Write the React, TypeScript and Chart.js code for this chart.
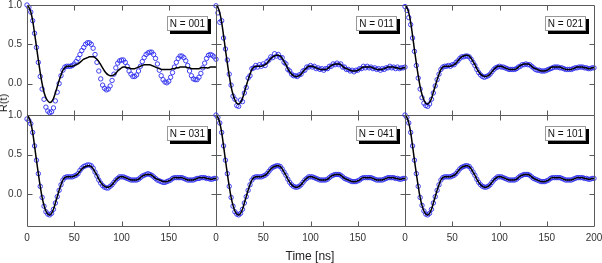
import { useEffect, useRef } from "react";
import { Chart, registerables } from "chart.js";

Chart.register(...registerables);

// Sampling step of every series below (ns); each array covers 0..200 ns.
const SAMPLE_STEP_NS = 2;

const PANEL_LABELS = ["N = 001", "N = 011", "N = 021", "N = 031", "N = 041", "N = 101"];
const X_TICKS = [0, 50, 100, 150, 200];
const Y_TICKS = [0, 0.5, 1.0];
const X_MIN = 0;
const X_MAX = 200;
const Y_MIN = -0.4;
const Y_MAX = 1.0;

// Fitted curves
const FIT_001 = [
  1.0, 0.97, 0.91, 0.8, 0.64, 0.47, 0.3, 0.14, 0.0, -0.11,
  -0.18, -0.22, -0.24, -0.23, -0.19, -0.12, -0.04, 0.04, 0.11, 0.17,
  0.2, 0.22, 0.22, 0.22, 0.22, 0.23, 0.24, 0.25, 0.27, 0.29,
  0.31, 0.32, 0.33, 0.34, 0.34, 0.34, 0.33, 0.31, 0.28, 0.24,
  0.2, 0.16, 0.13, 0.11, 0.1, 0.1, 0.11, 0.13, 0.16, 0.18,
  0.2, 0.21, 0.21, 0.2, 0.2, 0.19, 0.19, 0.19, 0.2, 0.21,
  0.22, 0.23, 0.24, 0.24, 0.24, 0.24, 0.23, 0.22, 0.21, 0.2,
  0.19, 0.18, 0.18, 0.18, 0.18, 0.18, 0.18, 0.19, 0.19, 0.2,
  0.2, 0.21, 0.21, 0.21, 0.21, 0.2, 0.2, 0.19, 0.19, 0.19,
  0.19, 0.19, 0.2, 0.2, 0.2, 0.2, 0.2, 0.21, 0.21, 0.21,
  0.21,
];

const FIT_SHARED = [
  1.0, 0.97, 0.9, 0.78, 0.61, 0.43, 0.26, 0.1, -0.04, -0.14,
  -0.21, -0.25, -0.26, -0.24, -0.19, -0.11, -0.03, 0.05, 0.12, 0.18,
  0.21, 0.22, 0.22, 0.22, 0.22, 0.23, 0.24, 0.26, 0.29, 0.32,
  0.34, 0.35, 0.36, 0.36, 0.35, 0.32, 0.28, 0.24, 0.19, 0.15,
  0.12, 0.1, 0.09, 0.09, 0.1, 0.12, 0.15, 0.18, 0.2, 0.22,
  0.22, 0.22, 0.21, 0.2, 0.19, 0.18, 0.18, 0.18, 0.18, 0.19,
  0.21, 0.23, 0.24, 0.25, 0.25, 0.25, 0.24, 0.22, 0.2, 0.19,
  0.18, 0.17, 0.16, 0.16, 0.16, 0.17, 0.18, 0.2, 0.21, 0.21,
  0.21, 0.21, 0.21, 0.2, 0.19, 0.18, 0.18, 0.18, 0.18, 0.19,
  0.2, 0.21, 0.21, 0.21, 0.21, 0.2, 0.2, 0.19, 0.19, 0.2,
  0.2,
];

// Measured R(t)
const DATA_001 = [
  1.0, 0.97, 0.91, 0.8, 0.64, 0.46, 0.27, 0.09, -0.07, -0.2,
  -0.3, -0.35, -0.37, -0.36, -0.31, -0.22, -0.11, 0.0, 0.1, 0.17,
  0.21, 0.22, 0.22, 0.22, 0.23, 0.25, 0.28, 0.32, 0.37, 0.42,
  0.46, 0.5, 0.52, 0.52, 0.5, 0.45, 0.37, 0.27, 0.16, 0.06,
  -0.02, -0.06, -0.08, -0.07, -0.03, 0.04, 0.12, 0.2, 0.26, 0.29,
  0.3, 0.3, 0.27, 0.22, 0.16, 0.12, 0.09, 0.09, 0.11, 0.16,
  0.22, 0.28, 0.33, 0.37, 0.39, 0.4, 0.4, 0.37, 0.32, 0.25,
  0.17, 0.1, 0.05, 0.02, 0.01, 0.03, 0.08, 0.14, 0.21, 0.27,
  0.32, 0.35, 0.35, 0.33, 0.29, 0.23, 0.16, 0.1, 0.06, 0.05,
  0.05, 0.08, 0.13, 0.2, 0.26, 0.32, 0.36, 0.37, 0.36, 0.34,
  0.31,
];

const DATA_011 = [
  0.99, 0.9, 0.78, 0.8, 0.58, 0.44, 0.3, 0.12, -0.02, -0.16,
  -0.2, -0.28, -0.29, -0.21, -0.23, -0.12, -0.05, 0.07, 0.1, 0.19,
  0.2, 0.23, 0.21, 0.24, 0.22, 0.25, 0.23, 0.28, 0.3, 0.34,
  0.33, 0.38, 0.35, 0.37, 0.33, 0.33, 0.27, 0.25, 0.18, 0.16,
  0.12, 0.1, 0.1, 0.09, 0.11, 0.12, 0.16, 0.17, 0.21, 0.21,
  0.23, 0.21, 0.22, 0.19, 0.2, 0.18, 0.19, 0.17, 0.19, 0.19,
  0.22, 0.22, 0.25, 0.24, 0.26, 0.24, 0.25, 0.21, 0.21, 0.18,
  0.18, 0.16, 0.17, 0.15, 0.17, 0.17, 0.19, 0.19, 0.22, 0.2,
  0.22, 0.2, 0.21, 0.19, 0.2, 0.18, 0.19, 0.17, 0.19, 0.18,
  0.2, 0.2, 0.22, 0.2, 0.21, 0.19, 0.21, 0.19, 0.2, 0.2,
  0.21,
];

const DATA_021 = [
  0.98, 0.93, 0.84, 0.75, 0.58, 0.41, 0.23, 0.07, -0.07, -0.18,
  -0.25, -0.28, -0.29, -0.26, -0.2, -0.12, -0.03, 0.05, 0.12, 0.18,
  0.21, 0.22, 0.22, 0.23, 0.22, 0.24, 0.24, 0.27, 0.29, 0.32,
  0.34, 0.34, 0.35, 0.35, 0.34, 0.31, 0.27, 0.23, 0.18, 0.14,
  0.11, 0.09, 0.08, 0.09, 0.1, 0.12, 0.15, 0.18, 0.2, 0.21,
  0.22, 0.21, 0.21, 0.2, 0.19, 0.18, 0.18, 0.18, 0.18, 0.19,
  0.21, 0.22, 0.24, 0.24, 0.25, 0.24, 0.24, 0.22, 0.2, 0.18,
  0.17, 0.17, 0.16, 0.16, 0.16, 0.17, 0.18, 0.19, 0.2, 0.21,
  0.21, 0.21, 0.2, 0.2, 0.19, 0.18, 0.18, 0.18, 0.18, 0.19,
  0.2, 0.2, 0.21, 0.21, 0.21, 0.2, 0.2, 0.19, 0.19, 0.2,
  0.2,
];

const DATA_031 = [
  0.95, 0.93, 0.89, 0.78, 0.61, 0.43, 0.26, 0.1, -0.04, -0.15,
  -0.22, -0.25, -0.26, -0.24, -0.19, -0.11, -0.03, 0.05, 0.12, 0.18,
  0.21, 0.22, 0.22, 0.22, 0.22, 0.23, 0.24, 0.26, 0.3, 0.33,
  0.35, 0.36, 0.37, 0.37, 0.36, 0.33, 0.28, 0.23, 0.18, 0.14,
  0.11, 0.09, 0.08, 0.08, 0.1, 0.12, 0.15, 0.18, 0.2, 0.22,
  0.22, 0.22, 0.21, 0.2, 0.19, 0.18, 0.18, 0.18, 0.18, 0.19,
  0.21, 0.23, 0.24, 0.25, 0.26, 0.25, 0.24, 0.22, 0.2, 0.18,
  0.17, 0.16, 0.15, 0.15, 0.16, 0.17, 0.18, 0.2, 0.21, 0.21,
  0.21, 0.21, 0.21, 0.2, 0.19, 0.18, 0.18, 0.18, 0.18, 0.19,
  0.2, 0.2, 0.21, 0.21, 0.21, 0.2, 0.2, 0.19, 0.19, 0.2,
  0.2,
];

const DATA_041 = [
  1.0, 0.97, 0.9, 0.78, 0.61, 0.43, 0.26, 0.1, -0.04, -0.15,
  -0.22, -0.25, -0.26, -0.24, -0.19, -0.11, -0.03, 0.05, 0.12, 0.18,
  0.21, 0.22, 0.22, 0.22, 0.22, 0.23, 0.24, 0.26, 0.29, 0.32,
  0.34, 0.35, 0.36, 0.36, 0.35, 0.32, 0.28, 0.24, 0.19, 0.15,
  0.12, 0.1, 0.09, 0.09, 0.1, 0.12, 0.15, 0.18, 0.2, 0.22,
  0.22, 0.22, 0.21, 0.2, 0.19, 0.18, 0.18, 0.18, 0.18, 0.19,
  0.21, 0.23, 0.24, 0.25, 0.25, 0.25, 0.24, 0.22, 0.2, 0.19,
  0.18, 0.17, 0.16, 0.16, 0.16, 0.17, 0.18, 0.2, 0.21, 0.21,
  0.21, 0.21, 0.21, 0.2, 0.19, 0.18, 0.18, 0.18, 0.18, 0.19,
  0.2, 0.21, 0.21, 0.21, 0.21, 0.2, 0.2, 0.19, 0.19, 0.2,
  0.2,
];

const DATA_101 = [
  1.0, 0.97, 0.9, 0.78, 0.61, 0.43, 0.26, 0.1, -0.04, -0.14,
  -0.21, -0.25, -0.26, -0.24, -0.19, -0.11, -0.03, 0.05, 0.12, 0.18,
  0.21, 0.22, 0.22, 0.22, 0.22, 0.23, 0.24, 0.26, 0.29, 0.32,
  0.34, 0.35, 0.36, 0.36, 0.35, 0.32, 0.28, 0.24, 0.19, 0.15,
  0.12, 0.1, 0.09, 0.09, 0.1, 0.12, 0.15, 0.18, 0.2, 0.22,
  0.22, 0.22, 0.21, 0.2, 0.19, 0.18, 0.18, 0.18, 0.18, 0.19,
  0.21, 0.23, 0.24, 0.25, 0.25, 0.25, 0.24, 0.22, 0.2, 0.19,
  0.18, 0.17, 0.16, 0.16, 0.16, 0.17, 0.18, 0.2, 0.21, 0.21,
  0.21, 0.21, 0.21, 0.2, 0.19, 0.18, 0.18, 0.18, 0.18, 0.19,
  0.2, 0.21, 0.21, 0.21, 0.21, 0.2, 0.2, 0.19, 0.19, 0.2,
  0.2,
];

const PANEL_DATA = [DATA_001, DATA_011, DATA_021, DATA_031, DATA_041, DATA_101];
const PANEL_FITS = [FIT_001, FIT_SHARED, FIT_SHARED, FIT_SHARED, FIT_SHARED, FIT_SHARED];

// Figure geometry
const FIG_W = 602;
const FIG_H = 263;
const COL_LEFT = [27, 216, 405];
const PANEL_W = 189;
const ROW_TOP = [5, 115];
const ROW_BOTTOM = [115, 226];

const FONT_FAMILY = "'Liberation Sans', Arial, Helvetica, sans-serif";
const FRAME_COLOR = "#5a5a5a";
const TEXT_COLOR = "#333";
const MARKER_COLOR = "rgba(45, 45, 240, 0.9)";

const toPoints = (values: number[]) =>
  values.map((v, i) => ({ x: i * SAMPLE_STEP_NS, y: v }));

const formatY = (v: number) => v.toFixed(1);

const panelDecor = (label: string, showYLabels: boolean) => ({
  id: "panelDecor",
  afterDatasetsDraw(chart: any) {
    const { ctx, chartArea, scales } = chart;
    const l = Math.round(chartArea.left) + 0.5;
    const r = Math.round(chartArea.right) + 0.5;
    const t = Math.round(chartArea.top) + 0.5;
    const b = Math.round(chartArea.bottom) + 0.5;
    const tick = 5;
    ctx.save();
    ctx.strokeStyle = FRAME_COLOR;
    ctx.lineWidth = 1;
    ctx.beginPath();
    ctx.rect(l, t, r - l, b - t);
    X_TICKS.forEach((v) => {
      if (v <= X_MIN || v >= X_MAX) return;
      const px = Math.round(scales.x.getPixelForValue(v)) + 0.5;
      ctx.moveTo(px, t);
      ctx.lineTo(px, t + tick);
      ctx.moveTo(px, b);
      ctx.lineTo(px, b - tick);
    });
    Y_TICKS.forEach((v) => {
      if (v <= Y_MIN || v >= Y_MAX) return;
      const py = Math.round(scales.y.getPixelForValue(v)) + 0.5;
      ctx.moveTo(l, py);
      ctx.lineTo(l + tick, py);
      ctx.moveTo(r, py);
      ctx.lineTo(r - tick, py);
    });
    ctx.stroke();
    ctx.restore();
  },
  afterDraw(chart: any) {
    const { ctx, chartArea, scales } = chart;
    ctx.save();
    ctx.font = `10px ${FONT_FAMILY}`;

    // Value labels of the y axis, left of the frame
    if (showYLabels) {
      ctx.fillStyle = TEXT_COLOR;
      ctx.textAlign = "right";
      ctx.textBaseline = "middle";
      Y_TICKS.forEach((v) => {
        const py = scales.y.getPixelForValue(v);
        ctx.fillText(formatY(v), chartArea.left - 5, py);
      });
    }

    // Panel caption box with a drop shadow
    const w = Math.round(ctx.measureText(label).width + 6);
    const h = 15;
    const x = Math.round(chartArea.right - 8 - w);
    const y = Math.round(chartArea.top + 11);
    ctx.fillStyle = "#000";
    ctx.fillRect(x + 3, y + 3, w, h);
    ctx.fillStyle = "#fff";
    ctx.fillRect(x, y, w, h);
    ctx.strokeStyle = "#999";
    ctx.lineWidth = 1;
    ctx.strokeRect(x + 0.5, y + 0.5, w - 1, h - 1);
    ctx.fillStyle = "#111";
    ctx.textAlign = "center";
    ctx.textBaseline = "middle";
    ctx.fillText(label, x + w / 2, y + h / 2 + 0.5);
    ctx.restore();
  },
});

function makeConfig(idx: number): any {
  const col = idx % 3;
  const row = Math.floor(idx / 3);
  const left = COL_LEFT[col];
  const right = left + PANEL_W;
  const top = ROW_TOP[row];
  const bottom = ROW_BOTTOM[row];
  const showY = col === 0;
  const showX = row === 1;
  const lastCol = col === 2;

  const zeroPad = (s: any) => {
    s.paddingTop = 0;
    s.paddingBottom = 0;
    s.paddingLeft = 0;
    s.paddingRight = 0;
  };

  return {
    type: "line",
    data: {
      datasets: [
        {
          label: "fit",
          data: toPoints(PANEL_FITS[idx]),
          borderColor: "#000",
          borderWidth: 1.5,
          pointRadius: 0,
          tension: 0.35,
          fill: false,
          order: 1,
        },
        {
          label: "data",
          data: toPoints(PANEL_DATA[idx]),
          showLine: false,
          pointStyle: "circle",
          pointRadius: 2.2,
          pointBorderWidth: 1,
          pointBorderColor: MARKER_COLOR,
          pointBackgroundColor: "rgba(255,255,255,0)",
          borderColor: MARKER_COLOR,
          clip: false,
          order: 2,
        },
      ],
    },
    options: {
      responsive: false,
      animation: false,
      events: [],
      layout: {
        padding: {
          left,
          top,
          right: FIG_W - right,
          bottom: showX ? 0 : FIG_H - bottom,
        },
      },
      plugins: {
        legend: { display: false },
        tooltip: { enabled: false },
      },
      scales: {
        x: {
          type: "linear",
          min: X_MIN,
          max: X_MAX,
          display: showX,
          grid: { display: false, drawTicks: false, tickLength: 0 },
          border: { display: false },
          afterBuildTicks: (axis: any) => {
            axis.ticks = X_TICKS.map((v) => ({ value: v }));
          },
          ticks: {
            display: showX,
            padding: 6,
            maxRotation: 0,
            autoSkip: false,
            color: TEXT_COLOR,
            font: { family: FONT_FAMILY, size: 10 },
            callback: (v: number) => (v === X_MAX && !lastCol ? "" : String(v)),
          },
          afterFit: (s: any) => {
            s.height = showX ? FIG_H - bottom : 0;
            zeroPad(s);
          },
        },
        y: {
          type: "linear",
          min: Y_MIN,
          max: Y_MAX,
          display: false,
          afterBuildTicks: (axis: any) => {
            axis.ticks = Y_TICKS.map((v) => ({ value: v }));
          },
          afterFit: (s: any) => {
            s.width = 0;
            zeroPad(s);
          },
        },
      },
    },
    plugins: [panelDecor(PANEL_LABELS[idx], showY)],
  };
}

export default function App() {
  const canvasRefs = useRef<(HTMLCanvasElement | null)[]>([]);

  useEffect(() => {
    const charts = PANEL_LABELS.map((_, i) => {
      const el = canvasRefs.current[i];
      return el ? new Chart(el, makeConfig(i)) : null;
    });
    return () => {
      charts.forEach((c) => c && c.destroy());
    };
  }, []);

  return (
    <div
      style={{
        position: "fixed",
        left: 0,
        top: 0,
        width: FIG_W,
        height: FIG_H,
        background: "#fff",
        overflow: "hidden",
      }}
    >
      {PANEL_LABELS.map((label, i) => (
        <canvas
          key={label}
          ref={(el) => {
            canvasRefs.current[i] = el;
          }}
          width={FIG_W}
          height={FIG_H}
          style={{ position: "absolute", left: 0, top: 0, width: FIG_W, height: FIG_H }}
        />
      ))}
      <div
        style={{
          position: "absolute",
          left: 3,
          top: 103,
          transform: "translate(-50%, -50%) rotate(-90deg)",
          font: `11px ${FONT_FAMILY}`,
          color: "#222",
          whiteSpace: "nowrap",
        }}
      >
        R(t)
      </div>
      <div
        style={{
          position: "absolute",
          left: 310,
          top: 256,
          transform: "translate(-50%, -50%)",
          font: `12px ${FONT_FAMILY}`,
          color: "#222",
          whiteSpace: "nowrap",
        }}
      >
        Time [ns]
      </div>
    </div>
  );
}
